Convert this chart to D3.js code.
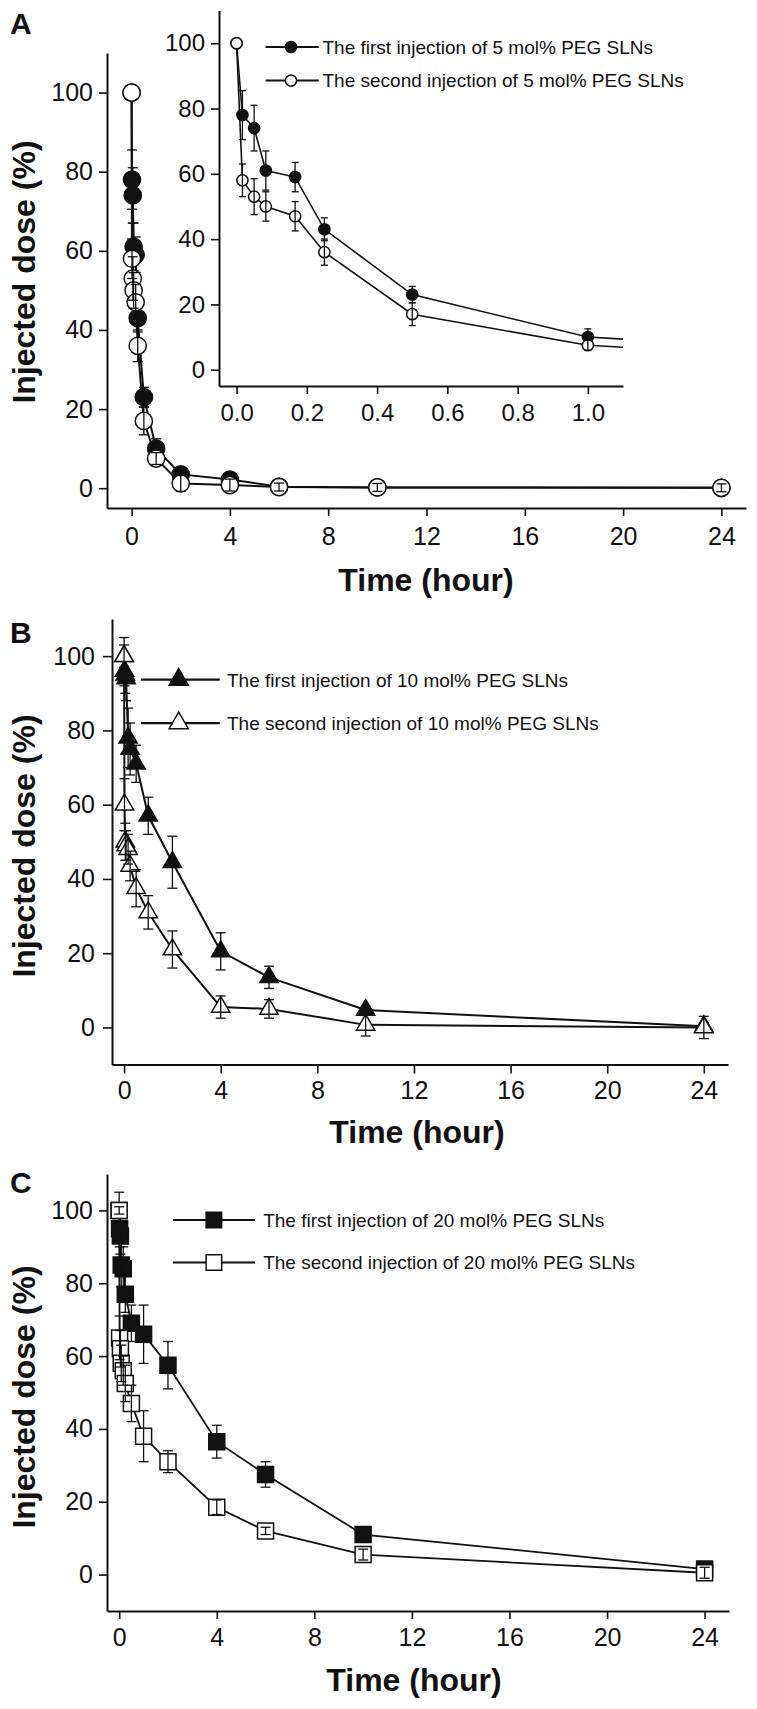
<!DOCTYPE html>
<html>
<head>
<meta charset="utf-8">
<script src="https://cdn.jsdelivr.net/npm/d3@7"></script>
<style>
  html, body { margin: 0; padding: 0; background: #fff; }
  svg { display: block; font-family: "Liberation Sans", Arial, sans-serif; }
</style>
</head>
<body>
<svg id="chart" width="757" height="1709"></svg>
<script>
// ---------------- data ----------------
const timeH = [0, 0.0167, 0.05, 0.0833, 0.1667, 0.25, 0.5, 1, 2, 4, 6, 10, 24];
const xTicks = [0, 4, 8, 12, 16, 20, 24];
const yTicks = [0, 20, 40, 60, 80, 100];
const insetXTicks = [0, 0.2, 0.4, 0.6, 0.8, 1.0];

// Panel A (5 mol% PEG)
const a1 = [100, 78, 74, 61, 59, 43, 23, 10, 3.5, 2.2, 0.4, 0.2, 0.1];
const a1Err = [0, 7.5, 7, 6, 4.5, 3.5, 2.5, 2.5, 1.5, 1.5, 1, 1, 1];
const a2 = [100, 58, 53, 50, 47, 36, 17, 7.5, 1.2, 0.8, 0.3, 0.2, 0.1];
const a2Err = [0, 5, 5.5, 4.5, 4.5, 4, 3.5, 1.5, 2, 1.5, 1, 1, 1];

// Panel B (10 mol% PEG)
const b1 = [100, 96, 95, 94, 78, 75, 71, 57, 44.5, 20.5, 13.5, 4.7, 0.3];
const b1Err = [3, 4, 5, 6, 8, 7, 5, 5, 7, 5, 3, 1, 1];
const b2 = [100, 60, 50, 49, 48, 43.5, 37.5, 31, 21, 5.5, 5, 0.7, 0];
const b2Err = [5, 7, 5, 4, 4, 4, 5, 4.5, 5, 3, 2.5, 3, 3];

// Panel C (20 mol% PEG)
const c1 = [100, 95, 93, 85, 84, 77, 69, 66, 57.5, 36.5, 27.5, 11, 1.5];
const c1Err = [5, 5, 5, 6, 6, 5, 5, 8, 6.5, 4.5, 3.5, 1, 1.5];
const c2 = [100, 65, 62, 58, 56, 52.5, 47, 38, 31, 18.5, 12, 5.5, 0.5];
const c2Err = [1, 6, 5, 5, 4, 5, 5, 7, 3, 2, 1, 1.5, 1.5];

const legendA = ["The first injection of 5 mol% PEG SLNs", "The second injection of 5 mol% PEG SLNs"];
const legendB = ["The first injection of 10 mol% PEG SLNs", "The second injection of 10 mol% PEG SLNs"];
const legendC = ["The first injection of 20 mol% PEG SLNs", "The second injection of 20 mol% PEG SLNs"];

const yTitle = "Injected dose (%)";
const xTitle = "Time (hour)";

// ---------------- drawing ----------------
const svg = d3.select("#chart");
const INK = "#111";

function series(vals, errs) {
  return timeH.map((t, i) => ({ t, v: vals[i], e: errs[i] }));
}

function markerPath(shape, size) {
  const type = shape === "triangle" ? d3.symbolTriangle : shape === "square" ? d3.symbolSquare : d3.symbolCircle;
  return d3.symbol().type(type).size(size)();
}

let clipId = 0;
function drawPlot(cfg) {
  const g = svg.append("g");
  const x = d3.scaleLinear().domain(cfg.xDomain).range(cfg.xRange);
  const y = d3.scaleLinear().domain(cfg.yDomain).range(cfg.yRange);

  // axes
  const yAxis = d3.axisLeft(y).tickValues(cfg.yTicks).tickSize(cfg.tickSize).tickSizeOuter(0).tickPadding(cfg.yPad);
  const xAxis = d3.axisBottom(x).tickValues(cfg.xTicks).tickSize(cfg.tickSize).tickSizeOuter(0).tickPadding(cfg.xPad)
    .tickFormat(cfg.xFormat || d3.format("d"));
  const gy = g.append("g").attr("transform", `translate(${cfg.xRange[0]},0)`).call(yAxis);
  const gx = g.append("g").attr("transform", `translate(0,${cfg.yRange[0]})`).call(xAxis);
  [gx, gy].forEach(a => {
    a.select(".domain").attr("stroke", INK).attr("stroke-width", 2);
    a.selectAll(".tick line").attr("stroke", INK).attr("stroke-width", 1.6);
    a.selectAll(".tick text").attr("fill", INK).attr("font-size", cfg.tickFont)
      .attr("font-family", '"Liberation Sans", Arial, sans-serif');
  });

  // clip
  const cid = "clip" + (clipId++);
  svg.append("clipPath").attr("id", cid).append("rect")
    .attr("x", cfg.xRange[0]).attr("y", cfg.yRange[1] - 20)
    .attr("width", cfg.xRange[1] - cfg.xRange[0]).attr("height", cfg.yRange[0] - cfg.yRange[1] + 20);

  const inX = d => d.t >= cfg.xDomain[0] && d.t <= cfg.xDomain[1];
  const line = d3.line().x(d => x(d.t)).y(d => y(d.v));

  cfg.series.forEach(s => {
    g.append("path").datum(s.data).attr("d", line)
      .attr("fill", "none").attr("stroke", INK).attr("stroke-width", cfg.lineW)
      .attr("clip-path", `url(#${cid})`);
    const pts = s.data.filter(inX);
    g.append("g").selectAll("path").data(pts).join("path")
      .attr("d", markerPath(cfg.shape, cfg.markerSize))
      .attr("transform", d => `translate(${x(d.t)},${y(d.v)})`)
      .attr("fill", s.filled ? INK : "#fff").attr("stroke", INK).attr("stroke-width", 1.5);
    const eb = g.append("g").attr("stroke", INK).attr("stroke-width", 1.3);
    pts.filter(d => d.e > 0).forEach(d => {
      const cx = x(d.t), y0 = y(d.v - d.e), y1 = y(d.v + d.e), w = cfg.cap / 2;
      eb.append("line").attr("x1", cx).attr("x2", cx).attr("y1", y0).attr("y2", y1);
      eb.append("line").attr("x1", cx - w).attr("x2", cx + w).attr("y1", y0).attr("y2", y0);
      eb.append("line").attr("x1", cx - w).attr("x2", cx + w).attr("y1", y1).attr("y2", y1);
    });
  });

  // legend
  if (cfg.legend) {
    const L = cfg.legend;
    L.labels.forEach((lab, i) => {
      const ly = L.y[i];
      const lg = svg.append("g");
      lg.append("line").attr("x1", L.x0).attr("x2", L.x1).attr("y1", ly).attr("y2", ly)
        .attr("stroke", INK).attr("stroke-width", L.lineW);
      lg.append("path").attr("d", markerPath(cfg.shape, L.size))
        .attr("transform", `translate(${L.mx},${ly})`)
        .attr("fill", i === 0 ? INK : "#fff").attr("stroke", INK).attr("stroke-width", 1.5);
      lg.append("text").attr("x", L.tx).attr("y", ly).attr("dy", "0.36em")
        .attr("font-size", L.font).attr("fill", INK).text(lab);
    });
  }

  // titles
  if (cfg.xTitle) {
    svg.append("text").attr("x", cfg.xTitle.x).attr("y", cfg.xTitle.y).attr("text-anchor", "middle")
      .attr("font-size", 32).attr("font-weight", "bold").attr("fill", INK).text(xTitle);
  }
  if (cfg.yTitle) {
    svg.append("text").attr("transform", `translate(${cfg.yTitle.x},${cfg.yTitle.y}) rotate(-90)`)
      .attr("text-anchor", "middle").attr("font-size", 32).attr("font-weight", "bold").attr("fill", INK).text(yTitle);
  }
  if (cfg.letter) {
    svg.append("text").attr("x", cfg.letter.x).attr("y", cfg.letter.y)
      .attr("font-size", 30).attr("font-weight", "bold").attr("fill", INK).text(cfg.letter.t);
  }
}

// Panel A main
drawPlot({
  xDomain: [-1, 25], xRange: [107, 746], yDomain: [-5, 110], yRange: [508, 53],
  xTicks, yTicks, tickSize: 8, xPad: 11, yPad: 6, tickFont: 25, lineW: 2,
  shape: "circle", markerSize: Math.PI * 8.6 * 8.6, cap: 10,
  series: [{ data: series(a1, a1Err), filled: true }, { data: series(a2, a2Err), filled: false }],
  xTitle: { x: 426, y: 591 }, yTitle: { x: 35, y: 272 }, letter: { x: 10, y: 34, t: "A" }
});

// Panel A inset
drawPlot({
  xDomain: [-0.05, 1.1], xRange: [219, 623], yDomain: [-5, 110], yRange: [386, 10.6],
  xTicks: insetXTicks, yTicks, tickSize: 8, xPad: 10, yPad: 6, tickFont: 24, lineW: 1.6,
  xFormat: d3.format(".1f"),
  shape: "circle", markerSize: Math.PI * 5.6 * 5.6, cap: 7,
  series: [{ data: series(a1, a1Err), filled: true }, { data: series(a2, a2Err), filled: false }],
  legend: { labels: legendA, y: [47, 80.6], x0: 265.6, x1: 318.7, mx: 291, tx: 322.5, font: 19, size: Math.PI * 5.6 * 5.6, lineW: 2 }
});

// Panel B
drawPlot({
  xDomain: [-0.5, 25], xRange: [112, 728], yDomain: [-10, 110], yRange: [1064.6, 619],
  xTicks, yTicks, tickSize: 9, xPad: 8, yPad: 8, tickFont: 25, lineW: 2,
  shape: "triangle", markerSize: 145, cap: 10,
  series: [{ data: series(b1, b1Err), filled: true }, { data: series(b2, b2Err), filled: false }],
  legend: { labels: legendB, y: [679.7, 723.2], x0: 141, x1: 219.7, mx: 178.7, tx: 227, font: 19, size: 160, lineW: 2.2 },
  xTitle: { x: 417, y: 1143 }, yTitle: { x: 35, y: 846 }, letter: { x: 10, y: 643, t: "B" }
});

// Panel C
drawPlot({
  xDomain: [-0.5, 25], xRange: [107, 729], yDomain: [-10, 110], yRange: [1611, 1174],
  xTicks, yTicks, tickSize: 8, xPad: 9, yPad: 6, tickFont: 25, lineW: 1.8,
  shape: "square", markerSize: 256, cap: 10,
  series: [{ data: series(c1, c1Err), filled: true }, { data: series(c2, c2Err), filled: false }],
  legend: { labels: legendC, y: [1220, 1262.5], x0: 172.9, x1: 255, mx: 213.9, tx: 263.2, font: 19, size: 240, lineW: 2 },
  xTitle: { x: 414, y: 1691 }, yTitle: { x: 35, y: 1397 }, letter: { x: 10, y: 1193, t: "C" }
});
</script>
</body>
</html>
